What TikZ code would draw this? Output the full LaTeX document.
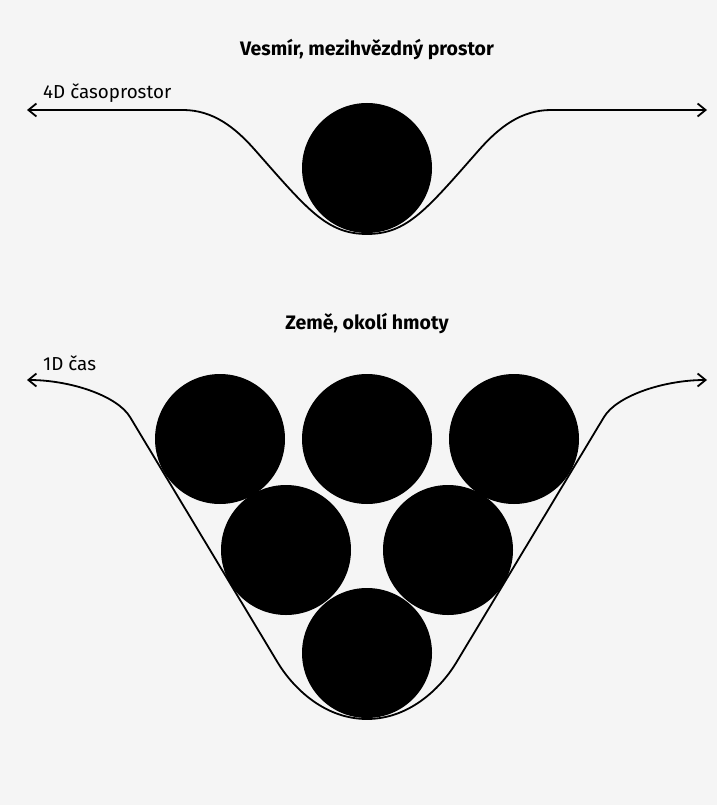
\documentclass[tikz,border=0pt]{standalone}
\usepackage{fontspec}
\setmainfont{Fira Sans}
\usetikzlibrary{arrows.meta}
\definecolor{bg}{RGB}{245,245,245}
\tikzset{
  ball/.style={circle,fill=black,minimum size=130pt,inner sep=0pt},
  sheet/.style={line width=1.8pt,{Straight Barb[length=8pt,width=13pt]}-{Straight Barb[length=8pt,width=13pt]}},
  title/.style={font=\bfseries\fontsize{19.5}{22}\selectfont,anchor=base,inner sep=0pt},
  tag/.style={font=\fontsize{18.8}{21}\selectfont,anchor=base west,inner sep=0pt}
}
\begin{document}
\begin{tikzpicture}[x=1pt,y=-1pt]
\fill[bg] (0,0) rectangle (717,805);
\useasboundingbox (0,0) rectangle (717,805);
% top scene
\node[title] (t1) at (367,56) {Vesmír, mezihvězdný prostor};
\node[tag] (l1) at (43,99) {4D časoprostor};
\node[ball] (s) at (367,168) {};
\coordinate (a1) at (27,110);
\coordinate (b1) at (707,110);
\draw[sheet] (a1) -- (183,110) .. controls (213,110) and (235.2,127.5) .. (255,150)
  .. controls (307.8,210) and (327,234) .. (367,234)
  .. controls (407,234) and (426.2,210) .. (479,150)
  .. controls (498.8,127.5) and (521,110) .. (551,110) -- (b1);
% bottom scene
\node[title] (t2) at (367,329) {Země, okolí hmoty};
\node[tag] (l2) at (43,370) {1D čas};
\node[ball] (c1) at (220,439) {};
\node[ball] (c2) at (367,439) {};
\node[ball] (c3) at (514,439) {};
\node[ball] (c4) at (286,550) {};
\node[ball] (c5) at (448,550) {};
\node[ball] (c6) at (367,653) {};
\coordinate (a2) at (27,380);
\coordinate (b2) at (707,380);
\draw[sheet] (a2) .. controls (70,380) and (117.1,395.6) .. (130,417) -- (278,663)
  .. controls (290.9,684.4) and (322,719) .. (367,719)
  .. controls (412,719) and (443.1,684.4) .. (456,663) -- (604,417)
  .. controls (616.9,395.6) and (664,380) .. (b2);
\end{tikzpicture}
\end{document}
